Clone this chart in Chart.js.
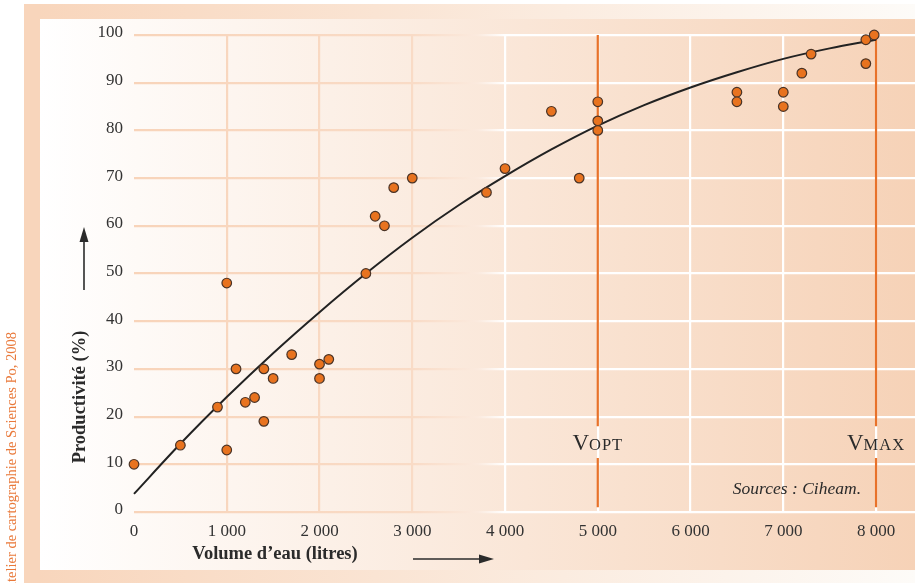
<!DOCTYPE html>
<html>
<head>
<meta charset="utf-8">
<script src="https://cdn.jsdelivr.net/npm/chart.js@4"></script>
<style>
  html,body{margin:0;padding:0;background:#fff;}
  canvas{display:block;}
</style>
</head>
<body>
<canvas id="graph" width="915" height="583"></canvas>
<script>
// points mesurés
const volume=[0,500,900,1000,1000,1100,1200,1300,1400,1400,1500,1700,2000,2000,2100,2500,2600,2700,2800,3000,3800,4000,4500,4800,5000,5000,5000,6500,6500,7000,7000,7200,7300,7890,7890,7980];
const productivite=[10,14,22,13,48,30,23,24,30,19,28,33,31,28,32,50,62,60,68,70,67,72,84,70,86,82,80,88,86,88,85,92,96,99,94,100];

// courbe de tendance
const courbeX=[0,500,1000,1500,2000,2500,3000,3500,4000,4500,5000,5500,6000,6500,7000,7500,8000];
const courbeY=[3.8,14.3,24.1,33.3,41.9,50,57.5,64.3,70.4,76,81,85.3,89,92.2,95,97.2,99];

const xTicks=[0,1000,2000,3000,4000,5000,6000,7000,8000];
const yTicks=[0,10,20,30,40,50,60,70,80,90,100];

// seuils Vopt / Vmax
const seuils=[{nom:"V",suite:"OPT",x:5000},{nom:"V",suite:"MAX",x:8000}];

const SERIF="'Liberation Serif', 'Times New Roman', serif";
const ORANGE="#e8731f";
const PEACH="#f8d5bb";

let gridGrad=null;
function gridColor(ctx){
    const chart=ctx.chart;
    const area=chart.chartArea;
    if(!area) return PEACH;
    if(ctx.scale && ctx.scale.axis==="x" && ctx.tick && ctx.tick.value===0) return "rgba(0,0,0,0)";
    if(!gridGrad){
        const c=chart.ctx;
        const w=area.right-area.left;
        gridGrad=c.createLinearGradient(area.left,0,area.right,0);
        gridGrad.addColorStop(0,"#f8d4ba");
        gridGrad.addColorStop((412-area.left)/w,"#f9dbc6");
        gridGrad.addColorStop((478-area.left)/w,"#fbeade");
        gridGrad.addColorStop((505-area.left)/w,"#ffffff");
        gridGrad.addColorStop(1,"#ffffff");
    }
    return gridGrad;
}

const fond={
    id:"fond",
    beforeDraw(chart){
        const c=chart.ctx;
        const W=chart.width, H=chart.height;
        c.save();
        c.fillStyle="#fff";
        c.fillRect(0,0,W,H);
        // intérieur : blanc -> pêche
        let g=c.createLinearGradient(40,0,W,0);
        g.addColorStop(0,"#ffffff");
        g.addColorStop(1,"#f6d2b7");
        c.fillStyle=g;
        c.fillRect(40,19,W-40,551);
        // bandes haut et bas : pêche -> blanc
        g=c.createLinearGradient(24,0,W,0);
        g.addColorStop(0,PEACH);
        g.addColorStop(1,"#fdfbf8");
        c.fillStyle=g;
        c.fillRect(24,4,W-24,15);
        c.fillRect(24,570,W-24,13);
        // bande gauche
        c.fillStyle=PEACH;
        c.fillRect(24,4,16,H-4);
        c.restore();
    }
};

function fleche(c,x1,y1,x2,y2){
    const a=Math.atan2(y2-y1,x2-x1);
    const L=15, l=4.5;
    c.beginPath();
    c.moveTo(x1,y1);
    c.lineTo(x2-L*Math.cos(a)*0.8,y2-L*Math.sin(a)*0.8);
    c.stroke();
    c.beginPath();
    c.moveTo(x2,y2);
    c.lineTo(x2-L*Math.cos(a)+l*Math.sin(a),y2-L*Math.sin(a)-l*Math.cos(a));
    c.lineTo(x2-L*Math.cos(a)-l*Math.sin(a),y2-L*Math.sin(a)+l*Math.cos(a));
    c.closePath();
    c.fill();
}

const textes={
    id:"textes",
    afterDraw(chart){
        const c=chart.ctx;
        const xs=chart.scales.x, ys=chart.scales.y;
        c.save();
        c.fillStyle="#2b2b2b";
        c.strokeStyle="#2b2b2b";
        c.lineWidth=1.6;

        // titres des axes
        c.font="bold 18.5px "+SERIF;
        c.textAlign="center";
        c.textBaseline="alphabetic";
        c.fillText("Volume d\u2019eau (litres)",275,559);
        c.save();
        c.translate(85,397);
        c.rotate(-Math.PI/2);
        c.fillText("Productivité (%)",0,0);
        c.restore();

        // flèches
        fleche(c,413,559,494,559);
        fleche(c,84,290,84,227);

        // Vopt / Vmax
        seuils.forEach(s=>{
            const px=xs.getPixelForValue(s.x);
            const py=ys.getPixelForValue(13);
            c.font="23px "+SERIF;
            const w1=c.measureText(s.nom).width;
            c.font="16.5px "+SERIF;
            c.letterSpacing="1px";
            const w2=c.measureText(s.suite).width;
            let x0=px-(w1+w2)/2;
            c.textAlign="left";
            c.font="23px "+SERIF;
            c.letterSpacing="0px";
            c.fillText(s.nom,x0,py);
            c.font="16.5px "+SERIF;
            c.letterSpacing="1px";
            c.fillText(s.suite,x0+w1,py);
            c.letterSpacing="0px";
        });

        // source
        c.font="italic 17.5px "+SERIF;
        c.textAlign="right";
        c.fillText("Sources : Ciheam.",861,494);

        // crédit
        c.fillStyle="#e9793a";
        c.font="14.5px "+SERIF;
        c.save();
        c.translate(16,332);
        c.rotate(-Math.PI/2);
        c.textAlign="right";
        c.fillText("Atelier de cartographie de Sciences Po, 2008",0,0);
        c.restore();
        c.restore();
    }
};

const points=volume.map((v,i)=>({x:v,y:productivite[i]}));
const courbe=courbeX.map((v,i)=>({x:v,y:courbeY[i]}));

function ligneSeuil(x){
    return [{x:x,y:100},{x:x,y:18},{x:x,y:null},{x:x,y:11.3},{x:x,y:1}];
}

const data={
    datasets:[{
        data:points,
        pointRadius:4.8,
        pointHoverRadius:4.8,
        pointBackgroundColor:ORANGE,
        pointBorderColor:"#4a3326",
        pointBorderWidth:1.2,
        showLine:false,
        clip:false
    },{
        data:courbe,
        showLine:true,
        borderColor:"#222",
        borderWidth:2,
        pointRadius:0,
        cubicInterpolationMode:"monotone",
        clip:false
    },{
        data:ligneSeuil(seuils[0].x),
        showLine:true,
        spanGaps:false,
        borderColor:"#e8722a",
        borderWidth:2.2,
        pointRadius:0,
        clip:false
    },{
        data:ligneSeuil(seuils[1].x),
        showLine:true,
        spanGaps:false,
        borderColor:"#e8722a",
        borderWidth:2.2,
        pointRadius:0,
        clip:false
    }]
};

const options={
    responsive:false,
    animation:false,
    devicePixelRatio:1,
    layout:{autoPadding:false,padding:{top:35,left:0,right:0,bottom:0}},
    plugins:{
        legend:{display:false},
        tooltip:{enabled:false}
    },
    scales:{
        x:{
            type:"linear",
            min:0,
            max:8420,
            afterBuildTicks:(scale)=>{scale.ticks=xTicks.map(v=>({value:v}));},
            afterFit:(scale)=>{scale.height=71;},
            border:{display:false},
            grid:{color:gridColor,lineWidth:2.2,drawTicks:false},
            ticks:{
                padding:9,
                color:"#333",
                font:{family:SERIF,size:17},
                maxRotation:0,
                autoSkip:false,
                callback:(v)=>v>=1000?Math.floor(v/1000)+" 000":String(v)
            }
        },
        y:{
            type:"linear",
            min:0,
            max:100,
            afterBuildTicks:(scale)=>{scale.ticks=yTicks.map(v=>({value:v}));},
            afterFit:(scale)=>{scale.width=134;},
            border:{display:false},
            grid:{color:gridColor,lineWidth:2.2,drawTicks:false},
            ticks:{
                padding:11,
                labelOffset:-2,
                color:"#333",
                font:{family:SERIF,size:17},
                autoSkip:false
            }
        }
    }
};

new Chart("graph",{type:"scatter",data,options,plugins:[fond,textes]});
</script>
</body>
</html>
